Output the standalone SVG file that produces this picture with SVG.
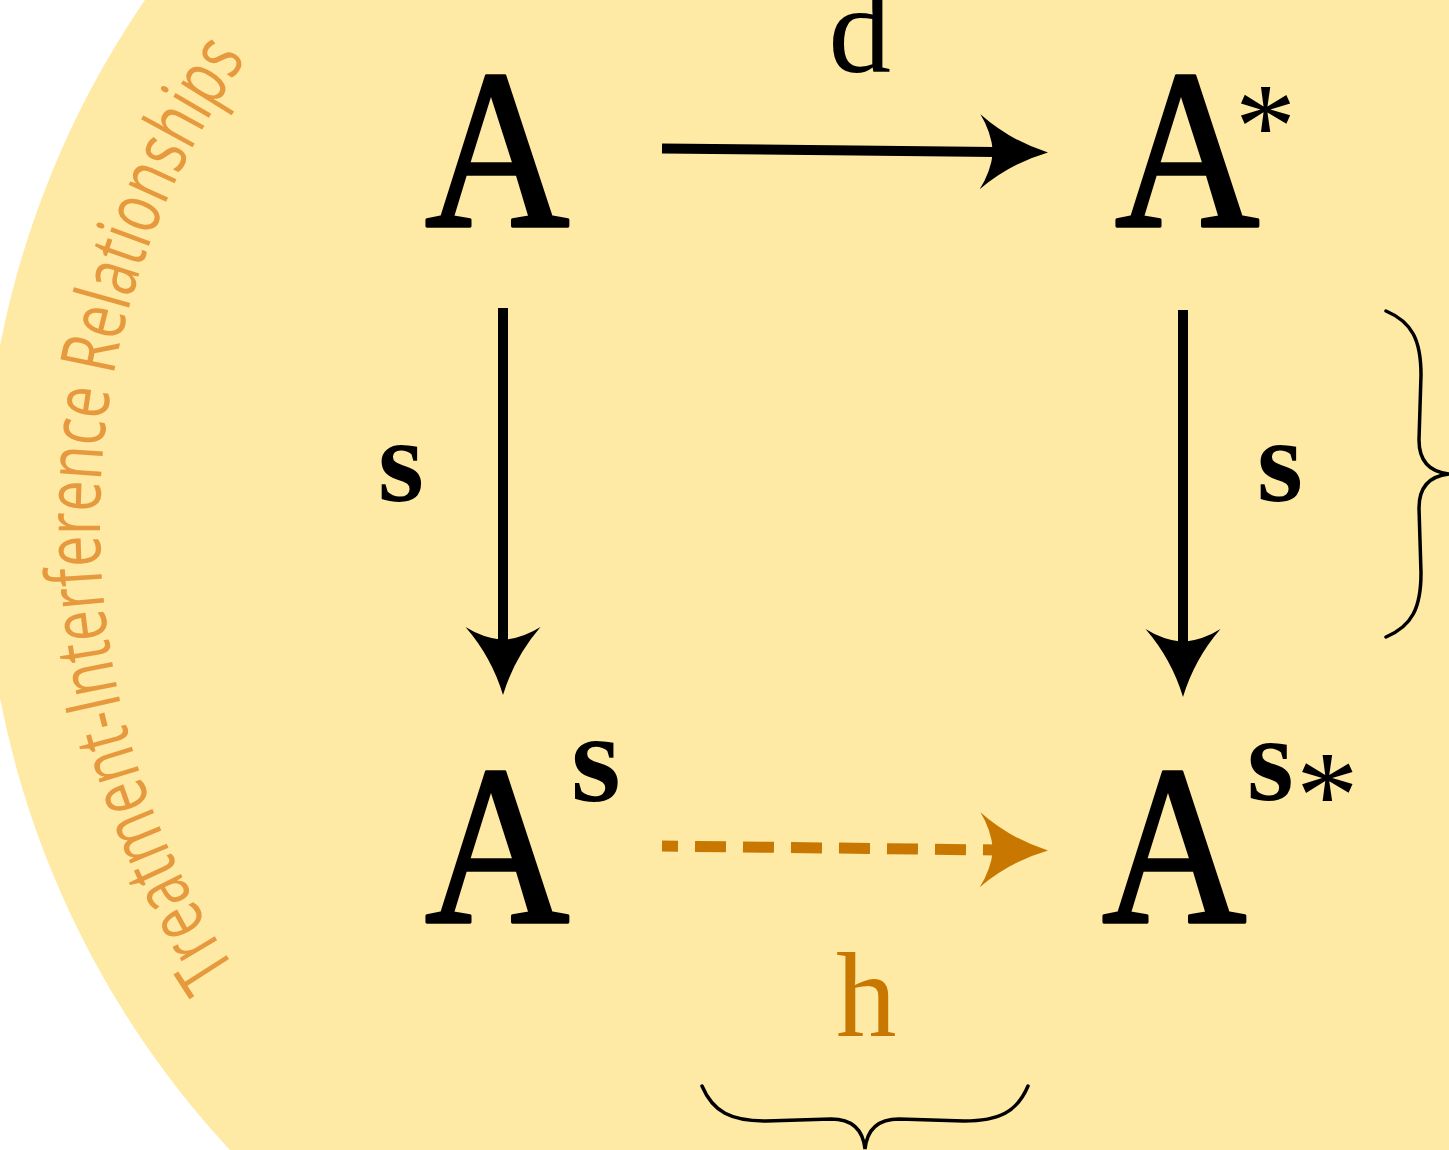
<svg xmlns="http://www.w3.org/2000/svg" xmlns:xlink="http://www.w3.org/1999/xlink" width="1449" height="1150" viewBox="0 0 1449 1150">
<style>
.bg{fill:#FEEAA5}
.big{font-family:"Liberation Serif",serif;font-weight:normal;font-size:227px;fill:#000;stroke:#000;stroke-width:3.5;stroke-linejoin:round}
.lbl{font-family:"Liberation Serif",serif;font-weight:bold;fill:#000}
.reg{font-family:"Liberation Serif",serif;font-weight:normal;fill:#000}
.arc{font-family:"Open Sans","Noto Sans",sans-serif;font-size:77px;fill:#E6993D}
.line{stroke:#000;stroke-width:10;fill:none}
.dash{stroke:#C87800;stroke-width:11;fill:none;stroke-dasharray:31 17;stroke-dashoffset:15}
.brace{stroke:#000;stroke-width:3.5;fill:none;stroke-linecap:round}
</style>
<defs>
<path id="head" d="M0,0 Q-38,-11.5 -68,-37.5 Q-57,-20 -55,0 Q-57,20 -68,37.5 Q-38,11.5 0,0 Z"/>
<path id="textArc" d="M236,969.8 A805,805 0 0 1 246.4,59.1"/>
</defs>
<circle class="bg" cx="905" cy="522" r="922"/>
<text class="arc"><textPath xlink:href="#textArc" href="#textArc" textLength="968" lengthAdjust="spacingAndGlyphs">Treatment-Interference Relationships</textPath></text>
<g id="connectors">
<g id="edge-d">
<line class="line" x1="662" y1="148.5" x2="995" y2="152"/>
<use href="#head" xlink:href="#head" fill="#000" transform="translate(1048,152.5) rotate(0.6)"/>
<text class="reg" x="828.6" y="72" font-size="125">d</text>
</g>
<g id="edge-s-left">
<line class="line" x1="503" y1="308" x2="503" y2="642"/>
<use href="#head" xlink:href="#head" fill="#000" transform="translate(503,695) rotate(90)"/>
<text class="lbl" x="378" y="501" font-size="118">s</text>
</g>
<g id="edge-s-right">
<line class="line" x1="1183" y1="310" x2="1183" y2="644"/>
<use href="#head" xlink:href="#head" fill="#000" transform="translate(1183,697) rotate(90)"/>
<text class="lbl" x="1257" y="501" font-size="118">s</text>
</g>
<g id="edge-h">
<line class="dash" x1="662" y1="846" x2="996" y2="850"/>
<use href="#head" xlink:href="#head" fill="#C87800" transform="translate(1048,850.5) rotate(0.6)"/>
<text class="reg" x="836" y="1036" font-size="121" style="fill:#C87800">h</text>
</g>
</g>
<g id="node-A">
<text class="big" transform="translate(425,226) scale(0.88,1)">A</text>
</g>
<g id="node-Astar">
<text class="big" transform="translate(1115,226) scale(0.88,1)">A</text>
<text class="reg" x="1235" y="167" font-size="122">*</text>
</g>
<g id="node-As">
<text class="big" transform="translate(425,922) scale(0.88,1)">A</text>
<text class="lbl" x="571" y="801" font-size="128">s</text>
</g>
<g id="node-Asstar">
<text class="big" transform="translate(1102,922) scale(0.88,1)">A</text>
<text class="lbl" x="1247" y="800" font-size="120">s</text>
<text class="reg" x="1296" y="837" font-size="125">*</text>
</g>
<g id="brace-right">
<path class="brace" d="M1386,311 C1412,322 1421,340 1421,375 L1419,440 C1419,462 1430,472 1449,474 C1430,476 1419,486 1419,508 L1421,573 C1421,608 1412,626 1386,637"/>
</g>
<g id="brace-bottom">
<path class="brace" d="M702,1086 C713,1112 731,1121 766,1121 L831,1119 C853,1119 863,1130 865,1149 C867,1130 877,1119 899,1119 L964,1121 C999,1121 1017,1112 1028,1086"/>
</g>
</svg>
